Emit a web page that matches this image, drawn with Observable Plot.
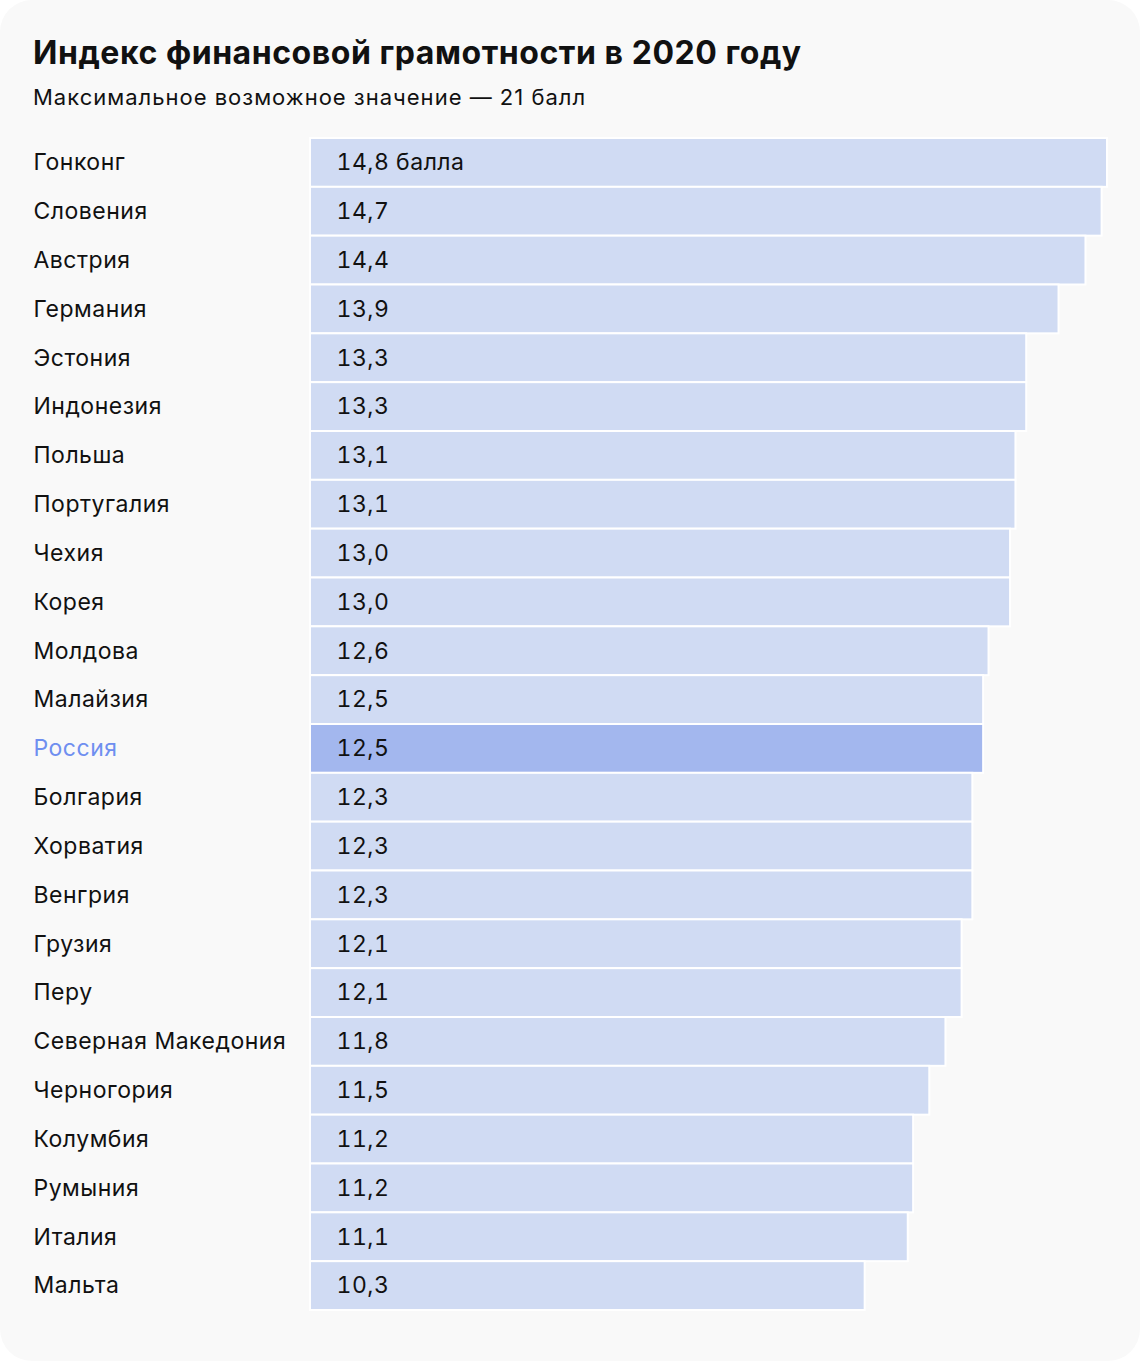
<!DOCTYPE html>
<html lang="ru">
<head>
<meta charset="utf-8">
<script src="https://cdn.jsdelivr.net/npm/d3@7"></script>
<script src="https://cdn.jsdelivr.net/npm/@observablehq/plot@0.6"></script>
<style>
  html, body { margin: 0; padding: 0; background: #ffffff; }
  #card {
    position: relative; width: 1140px; height: 1361px;
    background: #f9f9f9; border-radius: 32px; overflow: hidden;
    font-family: Inter, "Noto Sans", sans-serif; color: #111;
  }
  #title {
    position: absolute; left: 33px; top: 34px; margin: 0; white-space: nowrap;
    font-size: 32px; line-height: 38px; font-weight: 700; letter-spacing: 0.55px;
  }
  #subtitle {
    position: absolute; left: 33px; top: 84px; margin: 0; white-space: nowrap;
    font-size: 22px; line-height: 26px; font-weight: 400; letter-spacing: 1px;
  }
  #chart { position: absolute; left: 0; top: 120px; line-height: 0; }
  #chart svg text { letter-spacing: 0.5px; }
</style>
</head>
<body>
<div id="card">
  <div id="title">Индекс финансовой грамотности в 2020 году</div>
  <div id="subtitle">Максимальное возможное значение — 21 балл</div>
  <div id="chart"></div>
</div>
<script>
const countries = ["Гонконг","Словения","Австрия","Германия","Эстония","Индонезия","Польша","Португалия","Чехия","Корея","Молдова","Малайзия","Россия","Болгария","Хорватия","Венгрия","Грузия","Перу","Северная Македония","Черногория","Колумбия","Румыния","Италия","Мальта"];
const values = [14.8,14.7,14.4,13.9,13.3,13.3,13.1,13.1,13.0,13.0,12.6,12.5,12.5,12.3,12.3,12.3,12.1,12.1,11.8,11.5,11.2,11.2,11.1,10.3];
const highlight = "Россия";
const unitLabel = " балла";

const data = countries.map((c, i) => ({country: c, value: values[i], hi: c === highlight}));
const fmt = v => v.toFixed(1).replace(".", ",");

const chart = Plot.plot({
  width: 1140,
  height: 1241,
  marginTop: 18,
  marginBottom: 51,
  marginLeft: 310,
  marginRight: 33,
  style: {fontFamily: "Inter, 'Noto Sans', sans-serif", background: "transparent"},
  x: {domain: [0, 14.8], axis: null},
  y: {domain: countries, axis: null, paddingInner: 0, paddingOuter: 0, round: false},
  marks: [
    Plot.barX(data, {
      y: "country", x: "value",
      fill: d => d.hi ? "#a3b7ee" : "#d0dbf3",
      stroke: "#ffffff", strokeWidth: 2
    }),
    Plot.text(data, {
      y: "country", x: 0, dx: 26, textAnchor: "start",
      text: (d, i) => fmt(d.value) + (i === 0 ? unitLabel : ""),
      fontSize: 23, fontVariant: "tabular-nums", fill: "#111"
    }),
    Plot.text(data, {
      y: "country", frameAnchor: "left", dx: -277, textAnchor: "start",
      text: "country", fontSize: 23,
      fill: d => d.hi ? "#6f8ff0" : "#111"
    })
  ]
});
document.getElementById("chart").appendChild(chart);
</script>
</body>
</html>
